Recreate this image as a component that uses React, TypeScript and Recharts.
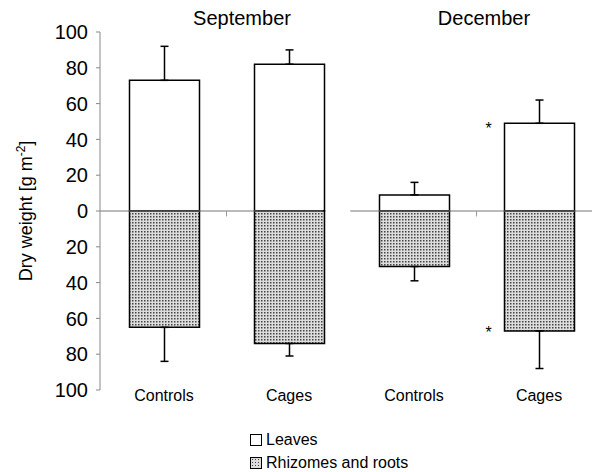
import {
  BarChart, Bar, XAxis, YAxis, ErrorBar, ReferenceLine, LabelList,
} from 'recharts'

// Dry weight (g m-2), leaves above zero, rhizomes+roots below
const groups = ['Controls', 'Cages', 'Controls', 'Cages']
const positions = [0, 1, 2, 3]
const leaves = [73, 82, 9, 49]
const leavesErr = [19, 8, 7, 13]
const rhizomes = [-65, -74, -31, -67]
const rhizomesErr = [19, 7, 8, 21]
const significant = [false, false, false, true]
const yTicks = [-100, -80, -60, -40, -20, 0, 20, 40, 60, 80, 100]

const FONT = 'Arial, "Liberation Sans", Helvetica, sans-serif'

const data = positions.map((pos, i) => ({
  pos,
  leaves: leaves[i],
  leavesErr: [0, leavesErr[i]],
  rhizomes: rhizomes[i],
  rhizomesErr: [rhizomesErr[i], 0],
}))

const renderYLabel = () => (
  <text x={32} y={211} transform="rotate(-90 32 211)" textAnchor="middle"
    fontFamily={FONT} fontSize={18} fill="#000">
    Dry weight [g m<tspan dy={-7} fontSize={12}>-2</tspan><tspan dy={7}>]</tspan>
  </text>
)

const renderXTick = ({ x, y, payload }: any) => (
  <text x={x} y={y + 9} textAnchor="middle" fontFamily={FONT} fontSize={16} fill="#000">
    {groups[payload.value]}
  </text>
)

const starTop = (props: any) => {
  const { x, y, height, index } = props
  if (!significant[index]) return null
  const top = Math.min(y, y + height)
  return <text x={x - 16} y={top + 11} textAnchor="middle" fontFamily={FONT} fontSize={16} fill="#000">*</text>
}

const starBottom = (props: any) => {
  const { x, y, height, index } = props
  if (!significant[index]) return null
  const bottom = Math.max(y, y + height)
  return <text x={x - 16} y={bottom + 7} textAnchor="middle" fontFamily={FONT} fontSize={16} fill="#000">*</text>
}

const dotted = 'radial-gradient(#444 0.8px, #ddd 0.9px) 0 0 / 3px 3px'

export default function App() {
  return (
    <div style={{ position: 'absolute', left: 0, top: 0, width: 592, height: 472, background: '#fff', fontFamily: FONT, overflow: 'hidden' }}>
      <div style={{ position: 'absolute', left: 182, top: 7, width: 120, textAlign: 'center', fontSize: 20 }}>September</div>
      <div style={{ position: 'absolute', left: 424, top: 7, width: 120, textAlign: 'center', fontSize: 20 }}>December</div>

      <BarChart width={592} height={472} data={data} barGap={-70}
        margin={{ top: 32, right: 0, bottom: 52, left: 40 }}>
        <defs>
          <pattern id="dots" width="3" height="3" patternUnits="userSpaceOnUse">
            <rect width="3" height="3" fill="#dddddd" />
            <rect width="1.5" height="1.5" fill="#444" />
          </pattern>
        </defs>
        <XAxis dataKey="pos" type="number" domain={[-0.512, 3.424]} ticks={positions}
          axisLine={false} tickLine={false} tickSize={0} height={30}
          tick={renderXTick} interval={0} allowDataOverflow />
        <YAxis type="number" domain={[-100, 100]} ticks={yTicks} width={60}
          tickFormatter={(v: number) => String(Math.abs(v))}
          tick={{ fill: '#000', fontSize: 20, fontFamily: FONT }}
          axisLine={{ stroke: '#888' }} tickLine={{ stroke: '#888' }} tickSize={4} tickMargin={8}
          label={renderYLabel} />
        <ReferenceLine segment={[{ x: -0.512, y: 0 }, { x: 1.27, y: 0 }]} stroke="#777" />
        <ReferenceLine segment={[{ x: 1.49, y: 0 }, { x: 3.424, y: 0 }]} stroke="#777" />
        <ReferenceLine segment={[{ x: 0.5, y: 0 }, { x: 0.5, y: -3 }]} stroke="#999" />
        <ReferenceLine segment={[{ x: 2.5, y: 0 }, { x: 2.5, y: -3 }]} stroke="#999" />
        <Bar dataKey="leaves" barSize={70} fill="#fff" stroke="#000" strokeWidth={1.5} isAnimationActive={false}>
          <ErrorBar dataKey="leavesErr" width={4} stroke="#000" strokeWidth={1.5} isAnimationActive={false} />
          <LabelList dataKey="leaves" content={starTop} />
        </Bar>
        <Bar dataKey="rhizomes" barSize={70} fill="url(#dots)" stroke="#000" strokeWidth={1.5} isAnimationActive={false}>
          <ErrorBar dataKey="rhizomesErr" width={4} stroke="#000" strokeWidth={1.5} isAnimationActive={false} />
          <LabelList dataKey="rhizomes" content={starBottom} />
        </Bar>
      </BarChart>

      <div style={{ position: 'absolute', left: 250, top: 428, fontSize: 16, lineHeight: '23px' }}>
        <div style={{ display: 'flex', alignItems: 'center' }}>
          <span style={{ width: 10, height: 10, border: '1.5px solid #000', marginRight: 4, display: 'inline-block' }} />
          Leaves
        </div>
        <div style={{ display: 'flex', alignItems: 'center' }}>
          <span style={{ width: 10, height: 10, border: '1.5px solid #000', marginRight: 4, display: 'inline-block',
            background: dotted }} />
          Rhizomes and roots
        </div>
      </div>
    </div>
  )
}
